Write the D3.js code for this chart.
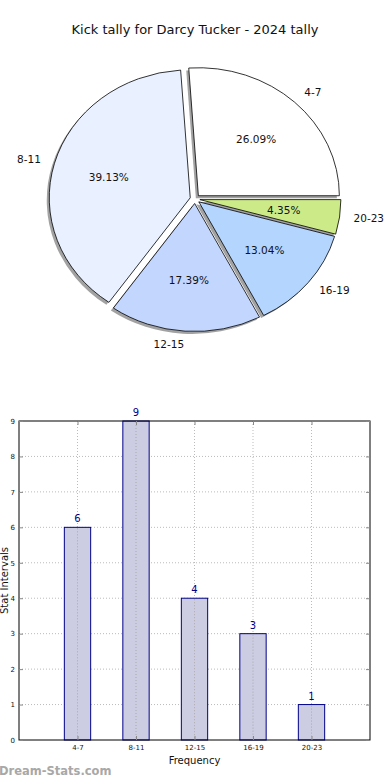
<!DOCTYPE html>
<html><head><meta charset="utf-8">
<script src="https://cdn.jsdelivr.net/npm/d3@7"></script>
<style>body{margin:0;background:#fff;} svg{display:block;font-family:"DejaVu Sans",sans-serif;}</style>
</head><body>
<script>
const categories = ["4-7","8-11","12-15","16-19","20-23"];
const values = [6,9,4,3,1];
const pieColors = ["#ffffff","#e9f0ff","#c3d6fd","#b4d5fe","#cdea88"];
const yTicks = [0,1,2,3,4,5,6,7,8,9];
const title = "Kick tally for Darcy Tucker - 2024 tally";

const W = 390, H = 780;
const svg = d3.select("body").append("svg").attr("width", W).attr("height", H);

svg.append("text").attr("x", 195).attr("y", 34).attr("text-anchor","middle")
  .attr("font-size", 13).attr("fill","#111").text(title);

// ---- Pie ----
const cx = 195, cy = 199, rx = 141, ry = 128, sy = ry/rx, expl = 0.035;
const total = d3.sum(values);
const pie = d3.pie().sort(null).startAngle(Math.PI/2).endAngle(Math.PI/2 - 2*Math.PI);
const arcs = pie(values);
const arc = d3.arc().innerRadius(0).outerRadius(rx);
const pg = svg.append("g");
arcs.forEach((a, i) => {
  const mid = (a.startAngle + a.endAngle)/2;
  const ux = Math.sin(mid), uy = -Math.cos(mid);
  const ox = cx + expl*rx*ux, oy = cy + expl*ry*uy;
  pg.append("path").attr("d", arc(a))
    .attr("transform", `translate(${ox-2.5},${oy+2.5}) scale(1,${sy})`)
    .attr("fill", "#555").attr("opacity", 0.55);
  a._o = [ox, oy, ux, uy];
});
arcs.forEach((a, i) => {
  const [ox, oy] = a._o;
  pg.append("path").attr("d", arc(a))
    .attr("transform", `translate(${ox},${oy}) scale(1,${sy})`)
    .attr("fill", pieColors[i]).attr("stroke", "#000").attr("stroke-width", 0.8)
    .attr("vector-effect","non-scaling-stroke");
});
arcs.forEach((a, i) => {
  const [ox, oy, ux, uy] = a._o;
  pg.append("text").attr("x", ox + 1.1*rx*ux).attr("y", oy + 1.1*ry*uy)
    .attr("dy","0.35em").attr("text-anchor", ux > 0 ? "start" : "end")
    .attr("font-size", 10.5).attr("fill","#111").text(categories[i]);
  pg.append("text").attr("x", ox + 0.6*rx*ux).attr("y", oy + 0.6*ry*uy)
    .attr("dy","0.35em").attr("text-anchor", "middle")
    .attr("font-size", 10.5).attr("fill","#111")
    .text((values[i]/total*100).toFixed(2) + "%");
});

// ---- Bar chart ----
const L = 19, R = 370, T = 421, B = 740;
const x = d3.scaleLinear().domain([-1, 5]).range([L, R]);
const y = d3.scaleLinear().domain([0, 9]).range([B, T]);
const bw = 0.45;
const bg = svg.append("g");

bg.selectAll(".hg").data(yTicks.slice(1, -1)).enter().append("line")
  .attr("x1", L).attr("x2", R).attr("y1", d => y(d)).attr("y2", d => y(d))
  .attr("stroke", "#bbb").attr("stroke-dasharray", "1,2");
bg.selectAll(".vg").data(categories).enter().append("line")
  .attr("x1", (d,i) => x(i)).attr("x2", (d,i) => x(i)).attr("y1", T).attr("y2", B)
  .attr("stroke", "#bbb").attr("stroke-dasharray", "1,2");

bg.selectAll(".bar").data(values).enter().append("rect")
  .attr("x", (d,i) => x(i - bw/2)).attr("width", x(bw) - x(0))
  .attr("y", d => y(d)).attr("height", d => y(0) - y(d))
  .attr("fill", "#cccce2").attr("stroke", "#00008b").attr("stroke-width", 1);
bg.selectAll(".vg2").data(values).enter().append("line")
  .attr("x1", (d,i) => x(i)).attr("x2", (d,i) => x(i)).attr("y1", d => y(d)+1).attr("y2", B)
  .attr("stroke", "#aaa").attr("stroke-dasharray", "1,2");
bg.selectAll(".vl").data(values).enter().append("text")
  .attr("x", (d,i) => x(i)).attr("y", d => y(d) - 5).attr("text-anchor","middle")
  .attr("font-size", 10).attr("fill", "#00008b").text(d => d);

bg.append("rect").attr("x", L).attr("y", T).attr("width", R-L).attr("height", B-T)
  .attr("fill","none").attr("stroke","#000").attr("stroke-width",1);

const yAxis = d3.axisLeft(y).tickValues(yTicks).tickSize(-4).tickPadding(4).tickFormat(d3.format("d"));
const ya = bg.append("g").attr("transform", `translate(${L},0)`).call(yAxis);
ya.select(".domain").remove();
ya.selectAll("line").attr("stroke", "#888");
ya.selectAll("text").attr("font-size", 7).attr("fill","#111").attr("font-family","DejaVu Sans");
const yr = bg.append("g").attr("transform", `translate(${R},0)`).call(d3.axisRight(y).tickValues(yTicks).tickSize(-4).tickFormat(""));
yr.select(".domain").remove(); yr.selectAll("line").attr("stroke","#888");

const xAxis = d3.axisBottom(x).tickValues(d3.range(categories.length)).tickSize(-4).tickPadding(5)
  .tickFormat(i => categories[i]);
const xa = bg.append("g").attr("transform", `translate(0,${B})`).call(xAxis);
xa.select(".domain").remove();
xa.selectAll("line").attr("stroke","#888");
xa.selectAll("text").attr("font-size", 7).attr("fill","#111").attr("font-family","DejaVu Sans");
const xt = bg.append("g").attr("transform", `translate(0,${T})`).call(d3.axisTop(x).tickValues(d3.range(categories.length)).tickSize(-4).tickFormat(""));
xt.select(".domain").remove(); xt.selectAll("line").attr("stroke","#888");

svg.append("text").attr("x", (L+R)/2).attr("y", 764).attr("text-anchor","middle")
  .attr("font-size", 10).attr("fill","#111").text("Frequency");
svg.append("text").attr("transform", `translate(8,${(T+B)/2}) rotate(-90)`)
  .attr("text-anchor","middle").attr("font-size", 10).attr("fill","#111").text("Stat Intervals");

svg.append("text").attr("x", -1).attr("y", 775).attr("font-size", 11.5)
  .attr("font-weight","bold").attr("fill","#a8a8a8").text("Dream-Stats.com");
</script>
</body></html>
